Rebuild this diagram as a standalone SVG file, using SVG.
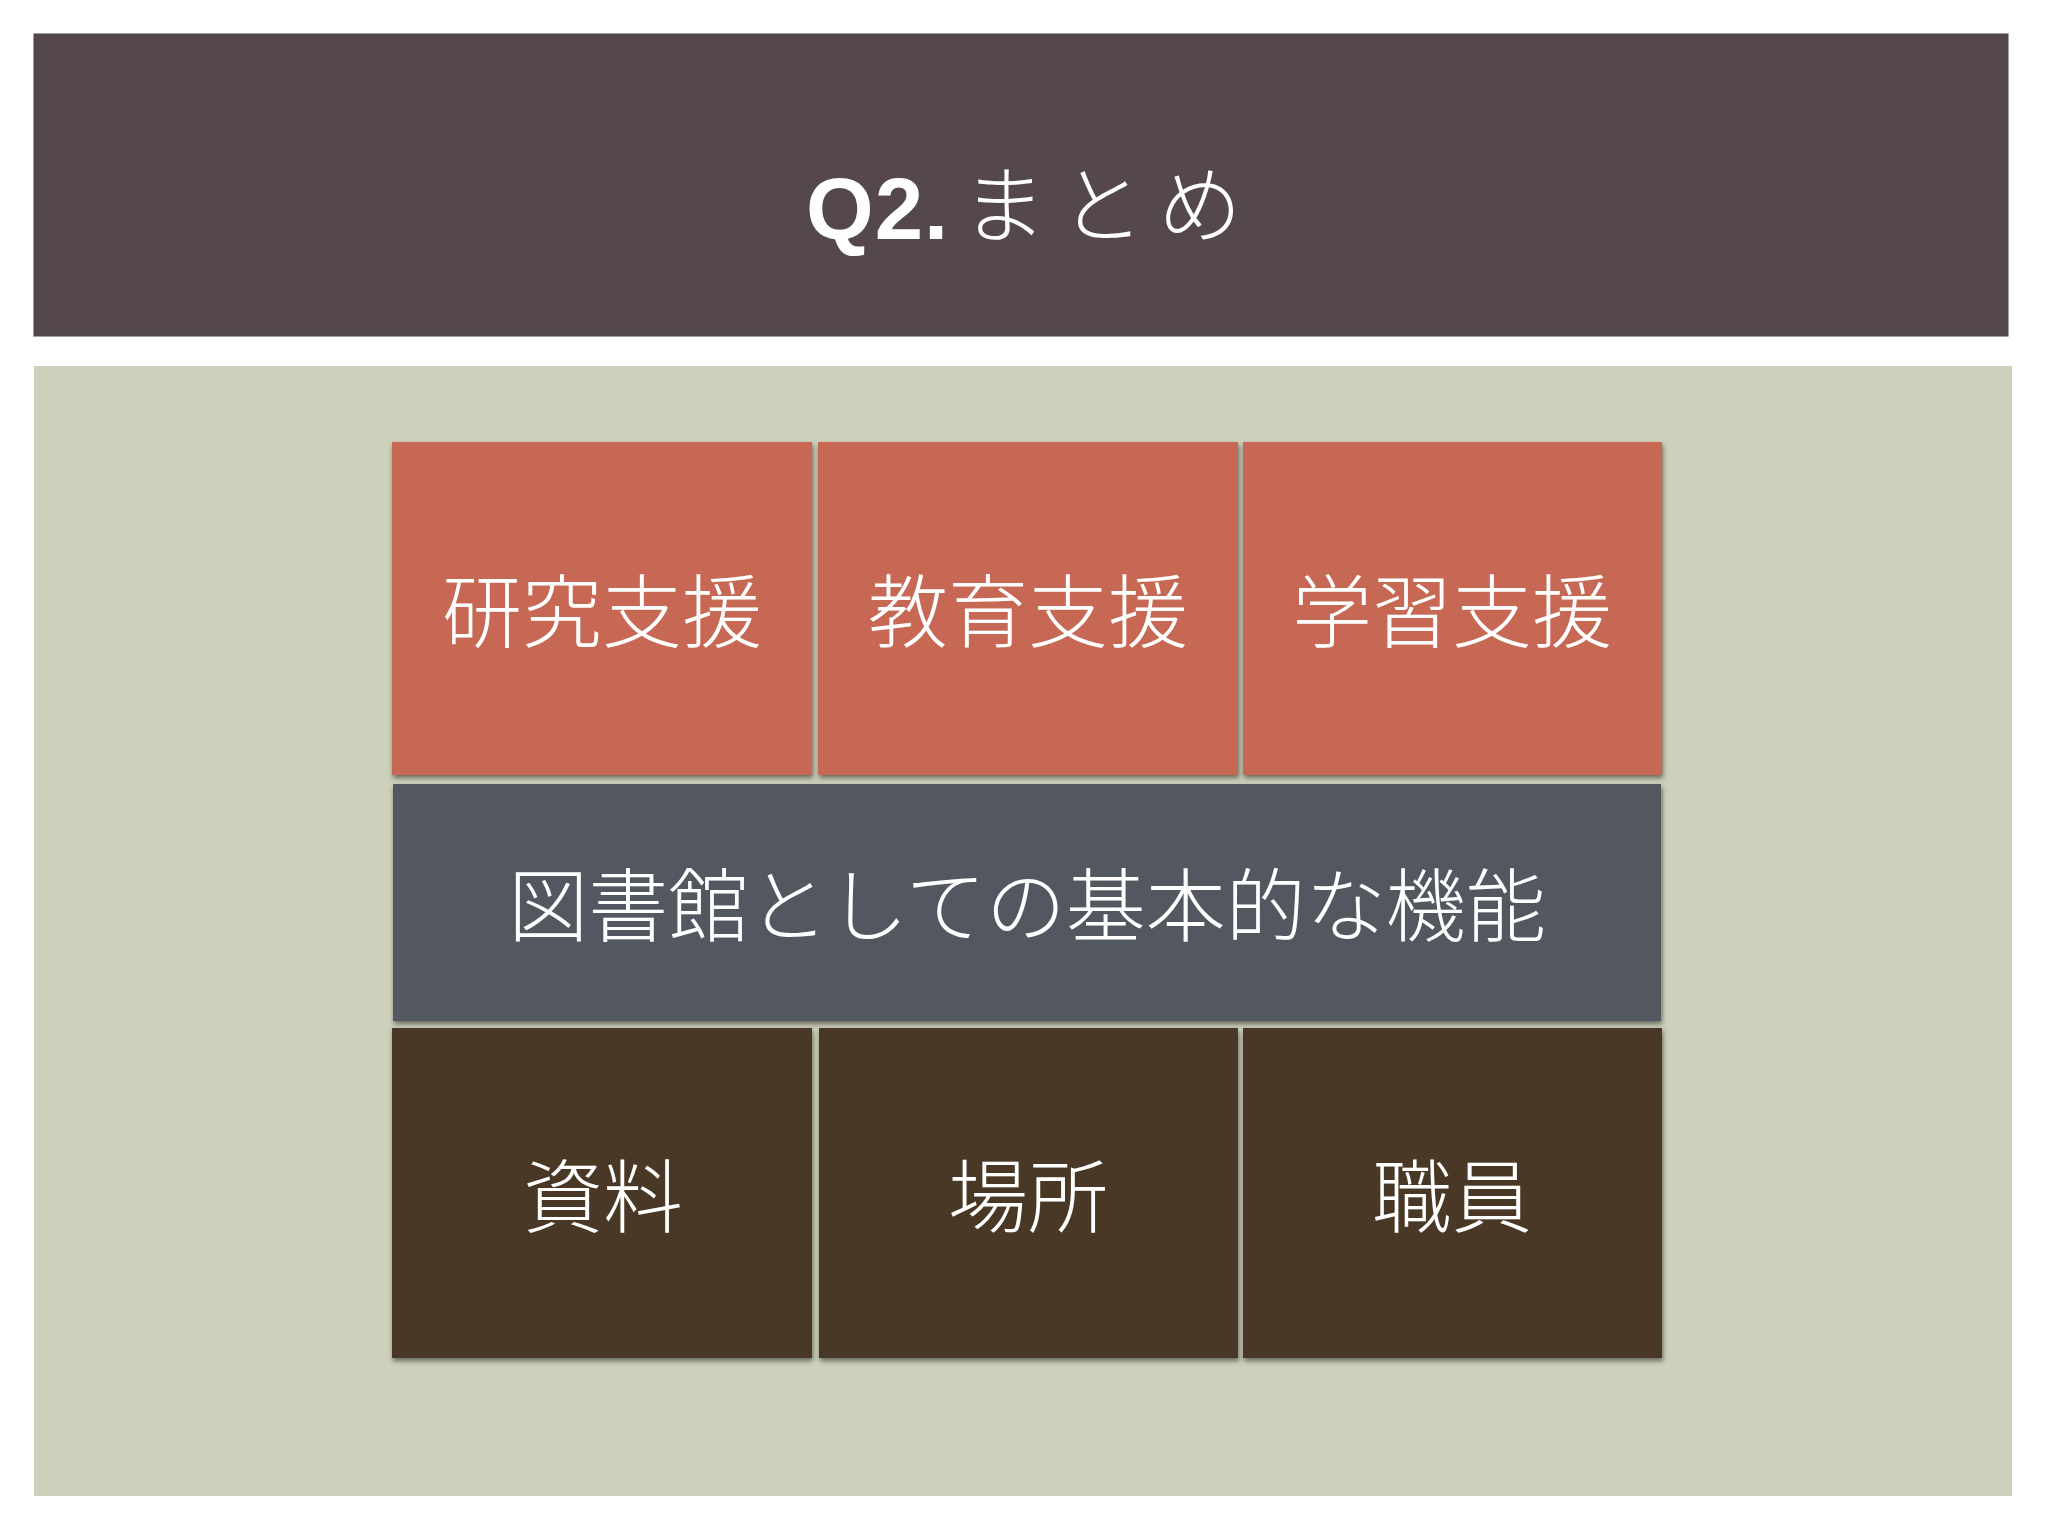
<svg xmlns="http://www.w3.org/2000/svg" width="2048" height="1536" viewBox="0 0 2048 1536">
  <defs>
    <filter id="shadow" x="-5%" y="-5%" width="110%" height="115%">
      <feDropShadow dx="1" dy="3" stdDeviation="2.4" flood-color="#000000" flood-opacity="0.5"/>
    </filter>
    <style>
      .jp { font-family: "Noto Sans CJK JP", "Noto Sans CJK SC", sans-serif; font-weight: 300; fill: #FFFFFF; font-size: 80px; text-anchor: middle; }
      .red { fill: #C66853; }
      .slate { fill: #535861; }
      .brown { fill: #4A3927; }
    </style>
  </defs>
  <rect x="0" y="0" width="2048" height="1536" fill="#FFFFFF"/>

  <g id="title-bar">
    <rect x="34" y="34" width="1974" height="302" fill="#55484A" stroke="#4C4547" stroke-width="1"/>
    <text y="239" fill="#FFFFFF">
      <tspan x="806" font-family="'Liberation Sans', Arial, sans-serif" font-weight="bold" font-size="87" letter-spacing="1">Q2.</tspan>
      <tspan x="962" y="236" font-family="'Noto Sans CJK JP', 'Noto Sans CJK SC', sans-serif" font-weight="300" font-size="84" letter-spacing="14">まとめ</tspan>
    </text>
  </g>

  <g id="panel">
    <rect x="34" y="366" width="1978" height="1130" fill="#CDD0BA"/>
  </g>

  <g id="node-research" filter="url(#shadow)">
    <rect class="red" x="392" y="442" width="420" height="333"/>
    <text class="jp" x="602" y="641">研究支援</text>
  </g>
  <g id="node-education" filter="url(#shadow)">
    <rect class="red" x="818" y="442" width="420" height="333"/>
    <text class="jp" x="1028" y="641">教育支援</text>
  </g>
  <g id="node-learning" filter="url(#shadow)">
    <rect class="red" x="1243" y="442" width="419" height="333"/>
    <text class="jp" x="1452" y="641">学習支援</text>
  </g>

  <g id="node-basic" filter="url(#shadow)">
    <rect class="slate" x="393" y="784" width="1268" height="237"/>
    <text class="jp" x="1027" y="935">図書館としての基本的な機能</text>
  </g>

  <g id="node-materials" filter="url(#shadow)">
    <rect class="brown" x="392" y="1028" width="420" height="330"/>
    <text class="jp" x="603" y="1226">資料</text>
  </g>
  <g id="node-place" filter="url(#shadow)">
    <rect class="brown" x="819" y="1028" width="419" height="330"/>
    <text class="jp" x="1028" y="1226">場所</text>
  </g>
  <g id="node-staff" filter="url(#shadow)">
    <rect class="brown" x="1243" y="1028" width="419" height="330"/>
    <text class="jp" x="1452" y="1226">職員</text>
  </g>

  <g id="connectors"/>
</svg>
